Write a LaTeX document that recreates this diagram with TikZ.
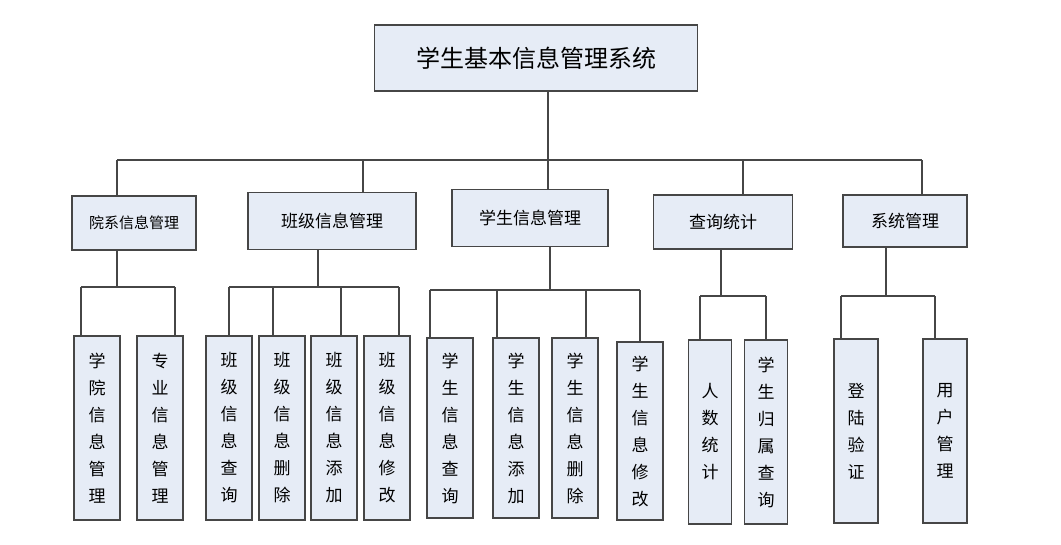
\documentclass[tikz,border=0pt]{standalone}
\usepackage{fontspec}
\newfontfamily\cjk{Noto Sans CJK SC}
\definecolor{boxfill}{RGB}{230,236,246}
\definecolor{boxline}{RGB}{70,70,70}
\tikzset{
  box/.style={draw=boxline,fill=boxfill,line width=1.2pt,inner sep=0pt,font=\cjk\fontsize{17}{20}\selectfont},
  leaf/.style={box,minimum width=46pt,minimum height=184pt,align=center,font=\cjk\fontsize{17}{27}\selectfont},
  link/.style={draw=boxline,line width=1.2pt}
}
\begin{document}
\begin{tikzpicture}[x=1pt,y=-1pt]
  \useasboundingbox (0,0) rectangle (1061,544);
  \node[box,minimum width=323pt,minimum height=66pt,font=\cjk\fontsize{24}{28}\selectfont] (root) at (536,58) {学生基本信息管理系统};
  % second level
  \node[box,minimum width=124pt,minimum height=54pt,font=\cjk\fontsize{15}{18}\selectfont] (yx) at (134,223) {院系信息管理};
  \node[box,minimum width=168pt,minimum height=57pt] (bj) at (332,221) {班级信息管理};
  \node[box,minimum width=156pt,minimum height=57pt] (xs) at (530,218) {学生信息管理};
  \node[box,minimum width=139pt,minimum height=54pt] (cx) at (723,222) {查询统计};
  \node[box,minimum width=124pt,minimum height=52pt] (xt) at (905,221) {系统管理};
  \coordinate (bus0) at (0,160);
  \draw[link] ([xshift=12pt]root.south) -- ([xshift=12pt]root.south |- bus0);
  \draw[link] ([xshift=-17pt]yx.north |- bus0) -- ([xshift=17pt]xt.north |- bus0);
  \foreach \n/\dx in {yx/-17,bj/31,xs/18,cx/20,xt/17}
    \draw[link] ([xshift=\dx pt]\n.north) -- ([xshift=\dx pt]\n.north |- bus0);
  % leaves
  \node[leaf] (yx1) at (97,428) {学\\院\\信\\息\\管\\理};
  \node[leaf] (yx2) at (160,428) {专\\业\\信\\息\\管\\理};
  \node[leaf] (bj1) at (229,428) {班\\级\\信\\息\\查\\询};
  \node[leaf] (bj2) at (282,428) {班\\级\\信\\息\\删\\除};
  \node[leaf] (bj3) at (334,428) {班\\级\\信\\息\\添\\加};
  \node[leaf] (bj4) at (387,428) {班\\级\\信\\息\\修\\改};
  \node[leaf,minimum height=180pt] (xs1) at (450,428) {学\\生\\信\\息\\查\\询};
  \node[leaf,minimum height=180pt] (xs2) at (516,428) {学\\生\\信\\息\\添\\加};
  \node[leaf,minimum height=180pt] (xs3) at (575,428) {学\\生\\信\\息\\删\\除};
  \node[leaf,minimum height=178pt] (xs4) at (640,431) {学\\生\\信\\息\\修\\改};
  \node[leaf,minimum width=43pt] (cx1) at (710,432) {人\\数\\统\\计};
  \node[leaf,minimum width=43pt] (cx2) at (766,432) {学\\生\\归\\属\\查\\询};
  \node[leaf,minimum width=44pt] (xt1) at (856,431) {登\\陆\\验\\证};
  \node[leaf,minimum width=44pt] (xt2) at (945,431) {用\\户\\管\\理};
  \foreach \p/\y/\d/\kids in {yx/287/-17/{yx1/-16,yx2/15}, bj/287/-14/{bj1/0,bj2/-9,bj3/7,bj4/12},
      xs/290/20/{xs1/-20,xs2/-19,xs3/11,xs4/0}, cx/296/-2/{cx1/-10,cx2/0}, xt/296/-19/{xt1/-15,xt2/-10}}{
    \coordinate (bus) at (0,\y);
    \draw[link] ([xshift=\d pt]\p.south) -- ([xshift=\d pt]\p.south |- bus);
    \foreach \k/\dx in \kids
      \draw[link] ([xshift=\dx pt]\k.north) -- ([xshift=\dx pt]\k.north |- bus);
  }
  % sub-buses
  \draw[link] ([xshift=-16pt]yx1.north |- 0,287) -- ([xshift=15pt]yx2.north |- 0,287);
  \draw[link] (bj1.north |- 0,287) -- ([xshift=12pt]bj4.north |- 0,287);
  \draw[link] ([xshift=-20pt]xs1.north |- 0,290) -- (xs4.north |- 0,290);
  \draw[link] ([xshift=-10pt]cx1.north |- 0,296) -- (cx2.north |- 0,296);
  \draw[link] ([xshift=-15pt]xt1.north |- 0,296) -- ([xshift=-10pt]xt2.north |- 0,296);
\end{tikzpicture}
\end{document}
